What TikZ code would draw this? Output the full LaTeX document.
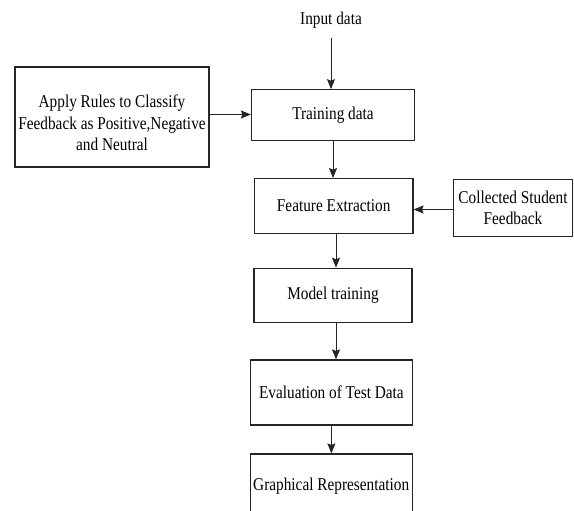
\documentclass[tikz,border=0pt]{standalone}
\usepackage{fontspec}
\setmainfont[FakeStretch=0.85]{Liberation Serif}
\usetikzlibrary{arrows.meta}
\begin{document}
\begin{tikzpicture}[x=1pt,y=-1pt,
  font=\fontsize{18}{21.6}\selectfont,
  box/.style={draw=black!85, line width=1.2pt, rectangle, align=center, inner sep=0pt},
  arr/.style={draw=black!85, line width=1pt, -{Stealth[length=10pt,width=8pt,inset=1.5pt]}}
]
  % page frame
  \clip (0,0) rectangle (574,511);
  \fill[white] (0,0) rectangle (574,511);

  % labels and boxes
  \node (input) at (331,20) [inner sep=0pt, minimum height=36pt] {Input data};
  \node[box, minimum width=194pt, minimum height=100pt] (apply) at (112,117) {};
  \node[align=center, inner sep=0pt] (applytxt) at (112,123)
    {Apply Rules to Classify\\Feedback as Positive,Negative\\and Neutral};
  \node[box, minimum width=163pt, minimum height=50.5pt] (train) at (333,115) {Training data};
  \node[box, minimum width=158.5pt, minimum height=54.6pt] (feat) at (333.7,206) {Feature Extraction};
  \node[box, minimum width=119.5pt, minimum height=57.7pt] (coll) at (513,208) {Collected Student\\Feedback};
  \node[box, minimum width=158pt, minimum height=54.4pt] (model) at (333,295.5) {Model training};
  \node[box, minimum width=162pt, minimum height=65pt] (eval) at (331.4,392.5) {Evaluation of Test Data};
  \node[box, minimum width=162pt, minimum height=64pt] (graph) at (331.2,486) {Graphical Representation};

  % connectors
  \draw[arr] (input.south) -- (input.south |- train.north);
  \draw[arr] ([yshift=2.5pt]apply.east) -- ([yshift=2.5pt]apply.east -| train.west);
  \draw[arr] (train.south) -- (train.south |- feat.north);
  \draw[arr] ([yshift=-1.5pt]coll.west) -- ([yshift=-1.5pt]coll.west -| feat.east);
  \draw[arr] ([xshift=2.3pt]feat.south) -- ([xshift=2.3pt]feat.south |- model.north);
  \draw[arr] ([xshift=3pt]model.south) -- ([xshift=3pt]model.south |- eval.north);
  \draw[arr] (eval.south) -- (eval.south |- graph.north);
\end{tikzpicture}
\end{document}
